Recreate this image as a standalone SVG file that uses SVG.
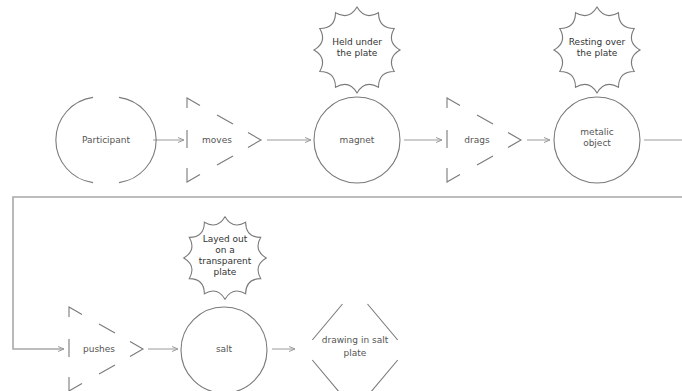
<svg xmlns="http://www.w3.org/2000/svg" xmlns:xlink="http://www.w3.org/1999/xlink" width="682" height="391" viewBox="0 0 682 391">
<style>
.shape{fill:none;stroke:#7a7a7a;stroke-width:1.1}
.star{fill:#fff;stroke:#7a7a7a;stroke-width:1.1}
.conn{fill:none;stroke:#9a9a9a;stroke-width:1}
.loop{fill:none;stroke:#a8a8a8;stroke-width:1.6}
.lbl{font-family:"DejaVu Sans",sans-serif;font-size:9px;fill:#555;text-anchor:middle}
.slbl{font-family:"DejaVu Sans",sans-serif;font-size:9px;fill:#333;text-anchor:middle}
</style>
<defs>
<marker id="arr" viewBox="0 0 6 6" refX="6" refY="3" markerWidth="6" markerHeight="6" markerUnits="userSpaceOnUse" orient="auto">
<path d="M0,0.5 L6,3 L0,5.5" fill="none" stroke="#9a9a9a" stroke-width="1"/>
</marker>
<path id="tri" d="M0,10 L0,0 L13,7.4 M30,17 L46,26.1 M61,34.6 L74,42 L61,49.4 M46,57.9 L30,67 M13,76.6 L0,84 L0,70 M0,32 L0,50"/>
<path id="starp" d="M0,-43 Q7.89,-29.46 21.5,-37.24 Q21.57,-21.57 37.24,-21.5 Q29.46,-7.89 43,0 Q29.46,7.89 37.24,21.5 Q21.57,21.57 21.5,37.24 Q7.89,29.46 0,43 Q-7.89,29.46 -21.5,37.24 Q-21.57,21.57 -37.24,21.5 Q-29.46,7.89 -43,0 Q-29.46,-7.89 -37.24,-21.5 Q-21.57,-21.57 -21.5,-37.24 Q-7.89,-29.46 0,-43 Z"/>
</defs>
<rect width="682" height="391" fill="#fff"/>
<g id="connectors">
<line class="conn" x1="153" y1="140" x2="184" y2="140" marker-end="url(#arr)"/>
<line class="conn" x1="267" y1="140" x2="311" y2="140" marker-end="url(#arr)"/>
<line class="conn" x1="404" y1="140" x2="442" y2="140" marker-end="url(#arr)"/>
<line class="conn" x1="527" y1="140" x2="550" y2="140" marker-end="url(#arr)"/>
<path class="conn" d="M644,140 H690"/>
<path class="loop" d="M690,197 H13 V349 H64" marker-end="url(#arr)"/>
<line class="conn" x1="148" y1="349" x2="178" y2="349" marker-end="url(#arr)"/>
<line class="conn" x1="272" y1="349" x2="295" y2="349" marker-end="url(#arr)"/>
</g>
<g id="participant">
<path class="shape" d="M119,97.4 A43,43 0 0 1 119,182.6 M93,182.6 A43,43 0 0 1 93,97.4"/>
<text class="lbl" x="106" y="143">Participant</text>
</g>
<g id="moves">
<use href="#tri" class="shape" transform="translate(187,98)"/>
<text class="lbl" x="217" y="143">moves</text>
</g>
<g id="magnet">
<circle class="shape" cx="357" cy="140" r="43"/>
<text class="lbl" x="357" y="143">magnet</text>
</g>
<g id="held">
<use href="#starp" class="star" transform="translate(357,50)"/>
<text class="slbl" x="357" y="45">Held under</text>
<text class="slbl" x="357" y="56">the plate</text>
</g>
<g id="drags">
<use href="#tri" class="shape" transform="translate(447,98)"/>
<text class="lbl" x="477" y="143">drags</text>
</g>
<g id="metallic">
<circle class="shape" cx="597" cy="140" r="43"/>
<text class="lbl" x="597" y="135">metalic</text>
<text class="lbl" x="597" y="146">object</text>
</g>
<g id="resting">
<use href="#starp" class="star" transform="translate(597,50)"/>
<text class="slbl" x="597" y="45">Resting over</text>
<text class="slbl" x="597" y="56">the plate</text>
</g>
<g id="pushes">
<use href="#tri" class="shape" transform="translate(69,307)"/>
<text class="lbl" x="99" y="352">pushes</text>
</g>
<g id="salt">
<circle class="shape" cx="224" cy="350" r="43"/>
<text class="lbl" x="224" y="352">salt</text>
</g>
<g id="layed">
<use href="#starp" class="star" transform="translate(225,258) scale(0.96)"/>
<text class="slbl" x="225" y="242">Layed out</text>
<text class="slbl" x="225" y="253">on a</text>
<text class="slbl" x="225" y="264">transparent</text>
<text class="slbl" x="225" y="275">plate</text>
</g>
<g id="drawing">
<path class="shape" d="M312.3,340 L342.5,304 M367.5,304 L397.7,340 M312.3,360 L342.5,396 M397.7,360 L367.5,396"/>
<text class="lbl" x="355" y="343">drawing in salt</text>
<text class="lbl" x="355" y="356">plate</text>
</g>
</svg>
